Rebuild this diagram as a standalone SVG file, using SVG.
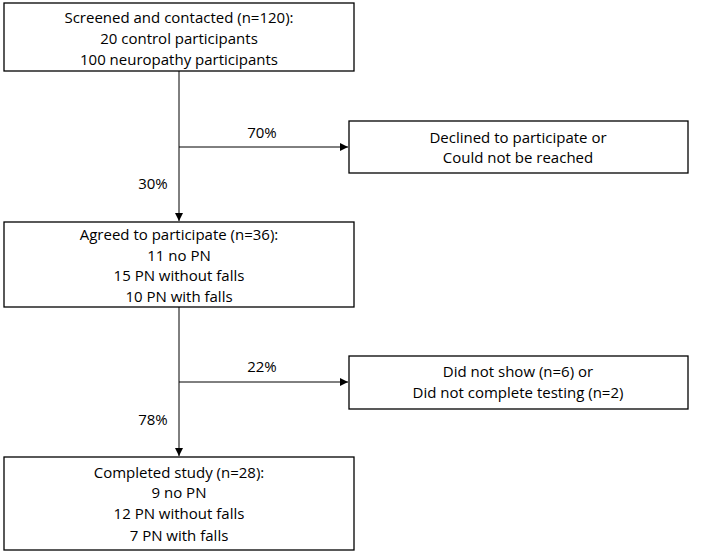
<svg xmlns="http://www.w3.org/2000/svg" width="708" height="555" viewBox="0 0 708 555">
<style>
.box{fill:#fff;stroke:#000;stroke-width:1.3}
.t{font-family:"Open Sans","Liberation Sans",sans-serif;font-size:15px;fill:#000;text-anchor:middle}
.c{stroke:#000;stroke-width:1;fill:none}
</style>
<defs>
<marker id="ah" viewBox="0 0 10 10" refX="10" refY="5" markerWidth="10" markerHeight="8" markerUnits="userSpaceOnUse" orient="auto">
<path d="M0,0 L10,5 L0,10 Z" fill="#000"/>
</marker>
</defs>
<rect width="708" height="555" fill="#fff"/>
<g id="connectors">
<line class="c" x1="179" y1="71" x2="179" y2="221" marker-end="url(#ah)"/>
<line class="c" x1="179" y1="147" x2="348" y2="147" marker-end="url(#ah)"/>
<line class="c" x1="179" y1="307" x2="179" y2="456" marker-end="url(#ah)"/>
<line class="c" x1="179" y1="382" x2="348" y2="382" marker-end="url(#ah)"/>
<text class="t" x="262" y="138">70%</text>
<text class="t" x="153" y="189">30%</text>
<text class="t" x="262" y="372">22%</text>
<text class="t" x="153" y="425">78%</text>
</g>
<g id="screened">
<rect class="box" x="4" y="3" width="350" height="68"/>
<text class="t" x="179" y="23">Screened and contacted (n=120):</text>
<text class="t" x="179" y="44">20 control participants</text>
<text class="t" x="179" y="65">100 neuropathy participants</text>
</g>
<g id="declined">
<rect class="box" x="349" y="121" width="339" height="52"/>
<text class="t" x="518" y="143">Declined to participate or</text>
<text class="t" x="518" y="163">Could not be reached</text>
</g>
<g id="agreed">
<rect class="box" x="4" y="222" width="350" height="85"/>
<text class="t" x="179" y="240">Agreed to participate (n=36):</text>
<text class="t" x="179" y="261">11 no PN</text>
<text class="t" x="179" y="281">15 PN without falls</text>
<text class="t" x="179" y="302">10 PN with falls</text>
</g>
<g id="noshow">
<rect class="box" x="349" y="356" width="339" height="53"/>
<text class="t" x="518" y="377">Did not show (n=6) or</text>
<text class="t" x="518" y="398">Did not complete testing (n=2)</text>
</g>
<g id="completed">
<rect class="box" x="4" y="457" width="350" height="93"/>
<text class="t" x="179" y="478">Completed study (n=28):</text>
<text class="t" x="179" y="498">9 no PN</text>
<text class="t" x="179" y="519">12 PN without falls</text>
<text class="t" x="179" y="541">7 PN with falls</text>
</g>
</svg>
